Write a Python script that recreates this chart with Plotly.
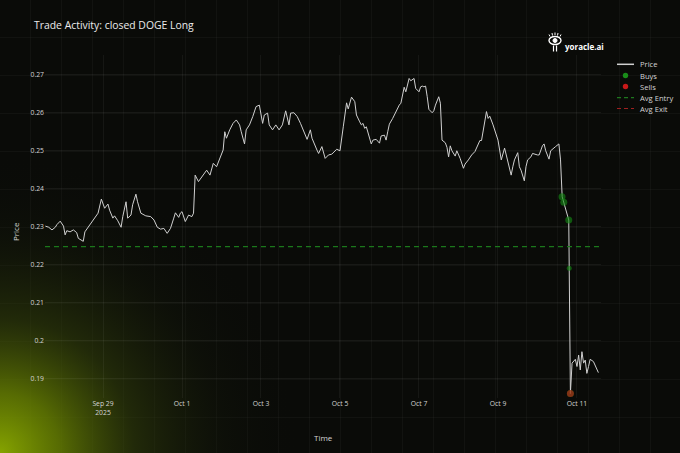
import base64
import pandas as pd
import plotly.graph_objects as go

# ---------------- data ----------------
START = pd.Timestamp("2025-09-27 00:00")

# hours since START, and DOGE price
price_hours = [
    13, 15, 17, 19, 20, 22, 24, 25, 26, 28, 30, 32, 33, 34, 36, 37, 39, 42, 45, 47,
    48, 49, 51, 52, 54, 55, 57, 59, 60, 62, 63, 65, 66, 68, 69, 71, 74, 77, 79, 81,
    83, 85, 87, 89, 91, 92, 94, 95, 96, 98, 100, 102, 103, 104, 106, 107, 109, 111, 113, 115,
    117, 119, 121, 122, 123, 125, 127, 129, 131, 132, 134, 135, 137, 139, 141, 143, 145, 146, 148, 149,
    151, 153, 155, 157, 159, 161, 162, 164, 166, 168, 170, 172, 174, 175, 178, 179, 181, 183, 185, 187,
    190, 192, 194, 196, 197, 199, 201, 202, 204, 205, 206, 207, 208, 209, 211, 212, 214, 216, 217, 219,
    220, 221, 222, 224, 226, 228, 229, 231, 232, 234, 235, 237, 238, 240, 241, 242, 243, 244, 245, 246,
    248, 249, 250, 252, 253, 254, 256, 257, 258, 259, 260, 262, 263, 265, 267, 268, 270, 272, 274, 275,
    277, 278, 279, 281, 282, 283, 285, 286, 288, 289, 290, 292, 293, 294, 296, 297, 298, 300, 301, 302,
    304, 305, 306, 308, 309, 312, 313, 315, 316, 317, 319, 320, 322, 323, 325, 326, 327, 328, 330, 331,
    332, 333, 335, 336, 337, 338, 339, 340, 341, 342, 343, 344, 346, 347, 349,
]
price_values = [
    0.2301, 0.2298, 0.2291, 0.2298, 0.2305, 0.2314, 0.2301, 0.2278, 0.2289, 0.2286,
    0.2291, 0.2284, 0.2269, 0.2266, 0.2261, 0.2286, 0.2299, 0.2315, 0.2335, 0.2372,
    0.2357, 0.2348, 0.2359, 0.2343, 0.2322, 0.2328, 0.2315, 0.2298, 0.2326, 0.2365,
    0.2322, 0.2330, 0.2357, 0.2385, 0.2365, 0.2335, 0.2328, 0.2326, 0.2317, 0.2298,
    0.2293, 0.2295, 0.2282, 0.2295, 0.2322, 0.2336, 0.2324, 0.2335, 0.2339, 0.2313,
    0.2330, 0.2326, 0.2335, 0.2435, 0.2418, 0.2424, 0.2435, 0.2448, 0.2435, 0.2466,
    0.2457, 0.2480, 0.2501, 0.2549, 0.2532, 0.2554, 0.2571, 0.2580, 0.2567, 0.2549,
    0.2517, 0.2554, 0.2567, 0.2589, 0.2615, 0.2619, 0.2571, 0.2593, 0.2598, 0.2567,
    0.2554, 0.2567, 0.2554, 0.2567, 0.2604, 0.2567, 0.2598, 0.2599, 0.2589, 0.2571,
    0.2549, 0.2529, 0.2554, 0.2532, 0.2501, 0.2492, 0.2510, 0.2479, 0.2488, 0.2490,
    0.2503, 0.2499, 0.2562, 0.2625, 0.2609, 0.2640, 0.2628, 0.2593, 0.2575, 0.2567,
    0.2571, 0.2558, 0.2562, 0.2549, 0.2517, 0.2527, 0.2529, 0.2519, 0.2538, 0.2540,
    0.2527, 0.2549, 0.2569, 0.2584, 0.2602, 0.2619, 0.2624, 0.2666, 0.2654, 0.2689,
    0.2683, 0.2689, 0.2663, 0.2654, 0.2667, 0.2669, 0.2667, 0.2669, 0.2641, 0.2608,
    0.2599, 0.2604, 0.2619, 0.2641, 0.2624, 0.2527, 0.2520, 0.2508, 0.2483, 0.2512,
    0.2499, 0.2485, 0.2499, 0.2479, 0.2453, 0.2464, 0.2475, 0.2488, 0.2497, 0.2508,
    0.2526, 0.2526, 0.2549, 0.2602, 0.2584, 0.2590, 0.2567, 0.2554, 0.2527, 0.2501,
    0.2475, 0.2506, 0.2488, 0.2475, 0.2435, 0.2457, 0.2475, 0.2494, 0.2457, 0.2448,
    0.2420, 0.2457, 0.2475, 0.2483, 0.2492, 0.2488, 0.2488, 0.2512, 0.2517, 0.2499,
    0.2477, 0.2499, 0.2508, 0.2510, 0.2517, 0.2475, 0.2378, 0.2364, 0.2335, 0.2317,
    0.1861, 0.1941, 0.1951, 0.1932, 0.1962, 0.1923, 0.1971, 0.1941, 0.1949, 0.1914,
    0.1932, 0.1951, 0.1945, 0.1936, 0.1916,
]

buy_hours = [326.9, 328.0, 331.0, 331.28, 332.0]
buy_prices = [0.2378, 0.2364, 0.2317, 0.2190, 0.1861]
sell_hours = [332.0]
sell_prices = [0.1861]
avg_entry = 0.2247

x_range_hours = [12.76, 350.59]
y_range = [0.18493, 0.27507]
y_ticks = [0.19, 0.20, 0.21, 0.22, 0.23, 0.24, 0.25, 0.26, 0.27]
x_tick_start = "2025-09-29"

title_text = "Trade Activity: closed DOGE Long"
legend_labels = ["Price", "Buys", "Sells", "Avg Entry", "Avg Exit"]


def to_time(hours):
    return [START + pd.Timedelta(hours=h) for h in hours]


# ---------------- layout geometry ----------------
W, H = 680, 453
L, R, T, B = 45, 79, 55, 55
PW, PH = W - L - R, H - T - B


def px2x(px):
    return (px - L) / PW


def px2y(py):
    return (H - B - py) / PH


FONT = "Open Sans, DejaVu Sans, sans-serif"
TEXT_COL = "#d4d4d4"
GREEN = "rgba(20,135,20,0.9)"
RED = "rgba(205,25,25,0.6)"

x_range = to_time(x_range_hours)

fig = go.Figure()
fig.add_trace(go.Scatter(
    x=to_time(price_hours), y=price_values, mode="lines", name="Price",
    line=dict(color="#d0d0d0", width=1), showlegend=False))
fig.add_trace(go.Scatter(
    x=x_range, y=[avg_entry, avg_entry], mode="lines", name="Avg Entry",
    line=dict(color="#1b781b", width=1.1, dash="5px,4px"), showlegend=False))
fig.add_trace(go.Scatter(
    x=to_time(buy_hours), y=buy_prices, mode="markers", name="Buys",
    marker=dict(color=GREEN, size=[7, 7, 7, 5, 7], line=dict(width=0)), showlegend=False))
fig.add_trace(go.Scatter(
    x=to_time(sell_hours), y=sell_prices, mode="markers", name="Sells",
    marker=dict(color=RED, size=7, line=dict(width=0)), showlegend=False))

# ---------------- background (dark with green glow bottom-left) ----------------
svg = f'''<svg xmlns="http://www.w3.org/2000/svg" width="{W}" height="{H}" viewBox="0 0 {W} {H}">
<defs>
<radialGradient id="g" cx="0" cy="{H}" r="300" gradientUnits="userSpaceOnUse">
<stop offset="0" stop-color="#86a400" stop-opacity="1"/>
<stop offset="0.2" stop-color="#647c02" stop-opacity="0.85"/>
<stop offset="0.45" stop-color="#34420a" stop-opacity="0.55"/>
<stop offset="0.75" stop-color="#161c0a" stop-opacity="0.25"/>
<stop offset="1" stop-color="#0a0b08" stop-opacity="0"/>
</radialGradient>
<pattern id="p" x="0" y="0" width="31" height="38" patternUnits="userSpaceOnUse">
<path d="M30.5 0 V38 M0 37.5 H31" stroke="#ffffff" stroke-opacity="0.03" stroke-width="1" fill="none"/>
</pattern>
</defs>
<rect width="{W}" height="{H}" fill="#0a0b08"/>
<rect width="{W}" height="{H}" fill="url(#p)"/>
<rect width="{W}" height="{H}" fill="url(#g)"/>
</svg>'''
bg_uri = "data:image/svg+xml;base64," + base64.b64encode(svg.encode()).decode()

shapes = []
annotations = []

# ---------------- custom legend ----------------
leg_y = [64.3, 75.5, 86.5, 97.7, 108.5]
lx0, lx1, ldot, ltext = 617, 634, 625.5, 637.5
shapes.append(dict(type="line", xref="paper", yref="paper",
                   x0=px2x(lx0), x1=px2x(lx1), y0=px2y(leg_y[0]), y1=px2y(leg_y[0]),
                   line=dict(color="#d0d0d0", width=1.5)))
for yy, col in ((leg_y[1], "rgb(25,140,25)"), (leg_y[2], "rgb(200,25,25)")):
    r = 2.7
    shapes.append(dict(type="circle", xref="paper", yref="paper",
                       x0=px2x(ldot - r), x1=px2x(ldot + r), y0=px2y(yy + r), y1=px2y(yy - r),
                       fillcolor=col, line=dict(width=0)))
for yy, col in ((leg_y[3], "rgb(30,120,30)"), (leg_y[4], "rgb(160,32,32)")):
    shapes.append(dict(type="line", xref="paper", yref="paper",
                       x0=px2x(lx0), x1=px2x(lx1), y0=px2y(yy), y1=px2y(yy),
                       line=dict(color=col, width=1.2, dash="4px,3px")))
for lab, yy in zip(legend_labels, leg_y):
    annotations.append(dict(text=lab, xref="paper", yref="paper", x=px2x(ltext), y=px2y(yy),
                            xanchor="left", yanchor="middle", showarrow=False,
                            font=dict(family=FONT, size=7.6, color=TEXT_COL)))

# ---------------- logo ----------------
ex0, ex1, ey0, ey1 = 549, 561, 36.5, 44.5
shapes.append(dict(type="circle", xref="paper", yref="paper",
                   x0=px2x(ex0), x1=px2x(ex1), y0=px2y(ey1), y1=px2y(ey0),
                   line=dict(color="white", width=1.4), fillcolor="rgba(0,0,0,0)"))
shapes.append(dict(type="circle", xref="paper", yref="paper",
                   x0=px2x(553), x1=px2x(557), y0=px2y(42.5), y1=px2y(38.5),
                   line=dict(color="white", width=1), fillcolor="white"))
for (a, b, c, d) in ((550, 36.5, 549, 34.5), (552.5, 35.5, 552, 33), (555, 35, 555, 32.5),
                     (557.5, 35.5, 558, 33), (560, 36.5, 561, 34.5)):
    shapes.append(dict(type="line", xref="paper", yref="paper",
                       x0=px2x(a), x1=px2x(c), y0=px2y(b), y1=px2y(d),
                       line=dict(color="white", width=1)))
for xx in (553.5, 556.5):
    shapes.append(dict(type="line", xref="paper", yref="paper",
                       x0=px2x(xx), x1=px2x(xx), y0=px2y(45.5), y1=px2y(51.5),
                       line=dict(color="white", width=1.2)))
annotations.append(dict(text="<b>yoracle.ai</b>", xref="paper", yref="paper",
                        x=px2x(562.5), y=px2y(46), xanchor="left", yanchor="middle",
                        showarrow=False, font=dict(family=FONT, size=8, color="white")))

# ---------------- axis titles ----------------
annotations.append(dict(text="Time", xref="paper", yref="paper", x=px2x(323), y=px2y(437),
                        xanchor="center", yanchor="middle", showarrow=False,
                        font=dict(family=FONT, size=8, color=TEXT_COL)))
annotations.append(dict(text="Price", xref="paper", yref="paper", x=px2x(15), y=px2y(232),
                        xanchor="center", yanchor="middle", showarrow=False, textangle=-90,
                        font=dict(family=FONT, size=8, color=TEXT_COL)))

fig.update_layout(
    width=W, height=H,
    margin=dict(l=L, r=R, t=T, b=B, pad=0),
    paper_bgcolor="#0a0b08",
    plot_bgcolor="rgba(0,0,0,0)",
    showlegend=False,
    title=dict(text=title_text, x=34 / W, xanchor="left", xref="container",
               y=1 - 25 / H, yanchor="middle", yref="container",
               font=dict(family=FONT, size=10.4, color="#ececec")),
    images=[dict(source=bg_uri, xref="paper", yref="paper",
                 x=-L / PW, y=1 + T / PH, sizex=W / PW, sizey=H / PH,
                 xanchor="left", yanchor="top", sizing="stretch", layer="below")],
    shapes=shapes,
    annotations=annotations,
    xaxis=dict(type="date", range=x_range, tick0=x_tick_start, dtick=2 * 86400000,
               showgrid=True, gridcolor="rgba(255,255,255,0.05)", gridwidth=1,
               zeroline=False, showline=False, ticks="",
               tickfont=dict(family=FONT, size=6.8, color=TEXT_COL)),
    yaxis=dict(range=y_range, tickvals=y_ticks, ticktext=[f"{v:g}" for v in y_ticks],
               showgrid=True, gridcolor="rgba(255,255,255,0.06)", gridwidth=1,
               zeroline=False, showline=False, ticks="",
               tickfont=dict(family=FONT, size=6.8, color=TEXT_COL)),
)

fig.write_html("out.html",
               config={"displayModeBar": False},
               post_script="document.body.style.margin='0';"
                           "document.body.style.background='#0a0b08';")
